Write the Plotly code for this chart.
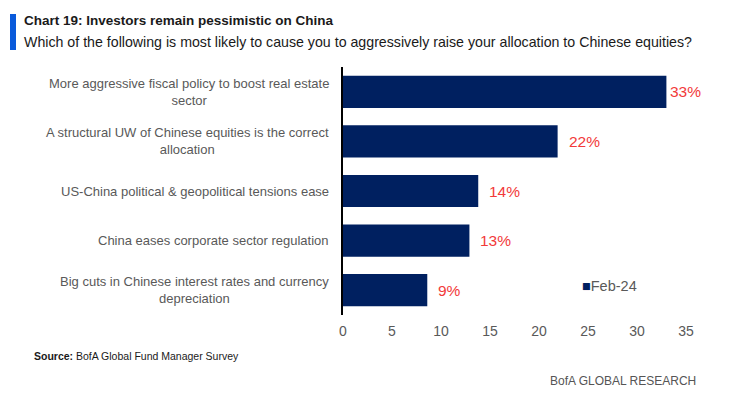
import plotly.graph_objects as go

categories = [
    "More aggressive fiscal policy to boost real estate<br>sector",
    "A structural UW of Chinese equities is the correct<br>allocation",
    "US-China political & geopolitical tensions ease",
    "China eases corporate sector regulation",
    "Big cuts in Chinese interest rates and currency<br>depreciation",
]
values = [33.0, 21.9, 13.8, 12.9, 8.6]
value_labels = ["33%", "22%", "14%", "13%", "9%"]
series_name = "Feb-24"
x_ticks = [0, 5, 10, 15, 20, 25, 30, 35]

FONT = "Liberation Sans, Arial, sans-serif"
NAVY = "#002060"
RED = "#F23A3A"
GREY = "#595959"

W, H = 738, 394
L, R, T, B = 343, 52, 67, 79
pw, ph = W - L - R, H - T - B


def px(xp):
    return (xp - L) / pw


def py(yp):
    return (H - B - yp) / ph


ypos = list(range(len(categories)))

fig = go.Figure()
fig.add_trace(go.Bar(
    y=ypos, x=values, orientation="h", name=series_name,
    marker=dict(color=NAVY, line=dict(width=0)),
    width=0.65, showlegend=False,
))

for i, (cat, v, lab) in enumerate(zip(categories, values, value_labels)):
    fig.add_annotation(
        x=0, xref="paper", y=i, yref="y", text=cat, showarrow=False,
        xanchor="right", yanchor="middle", align="center", xshift=-12,
        font=dict(family=FONT, size=13, color=GREY),
    )
    fig.add_annotation(
        x=v, xref="x", y=i, yref="y", text=lab, showarrow=False,
        xanchor="left", yanchor="middle", xshift=2 if i == 0 else 9,
        font=dict(family=FONT, size=15.5, color=RED),
    )

# legend entry for the single series
fig.add_annotation(
    x=px(580), y=py(286), xref="paper", yref="paper", xanchor="left", yanchor="middle",
    text=f"<span style='color:{NAVY}'>■</span>{series_name}", showarrow=False,
    font=dict(family=FONT, size=14.5, color=GREY),
)

fig.update_layout(
    width=W, height=H,
    margin=dict(l=L, r=R, t=T, b=B),
    paper_bgcolor="white", plot_bgcolor="white",
    font=dict(family=FONT, size=13, color=GREY),
    bargap=0.35,
    xaxis=dict(range=[0, 35], tickvals=x_ticks, showgrid=False, zeroline=False,
               showline=False, ticks="", ticklabelstandoff=6,
               tickfont=dict(size=14, color=GREY)),
    yaxis=dict(range=[len(categories) - 0.5, -0.5], showticklabels=False, showgrid=False,
               zeroline=False, showline=True, linecolor="#000000", linewidth=1.5, ticks=""),
    showlegend=False,
)

fig.add_shape(type="rect", xref="paper", yref="paper",
              x0=px(10), x1=px(16), y0=py(50), y1=py(14),
              fillcolor="#0A5ADB", line=dict(width=0))
fig.add_annotation(x=px(22), y=py(21), xref="paper", yref="paper", xanchor="left", yanchor="middle",
                   text="<b>Chart 19: Investors remain pessimistic on China</b>", showarrow=False,
                   font=dict(family=FONT, size=13.5, color="#1a1a1a"))
fig.add_annotation(x=px(22), y=py(42), xref="paper", yref="paper", xanchor="left", yanchor="middle",
                   text="Which of the following is most likely to cause you to aggressively raise your allocation to Chinese equities?",
                   showarrow=False, font=dict(family=FONT, size=14.2, color="#1a1a1a"))
fig.add_annotation(x=px(32), y=py(356), xref="paper", yref="paper", xanchor="left", yanchor="middle",
                   text="<b>Source:</b> BofA Global Fund Manager Survey",
                   showarrow=False, font=dict(family=FONT, size=10.5, color="#1a1a1a"))
fig.add_annotation(x=px(698), y=py(381), xref="paper", yref="paper", xanchor="right", yanchor="middle",
                   text="BofA GLOBAL RESEARCH",
                   showarrow=False, font=dict(family=FONT, size=12, color="#555555"))

fig.write_html("out.html", config={"displayModeBar": False},
               post_script="document.body.style.margin='0';document.body.style.padding='0';")
